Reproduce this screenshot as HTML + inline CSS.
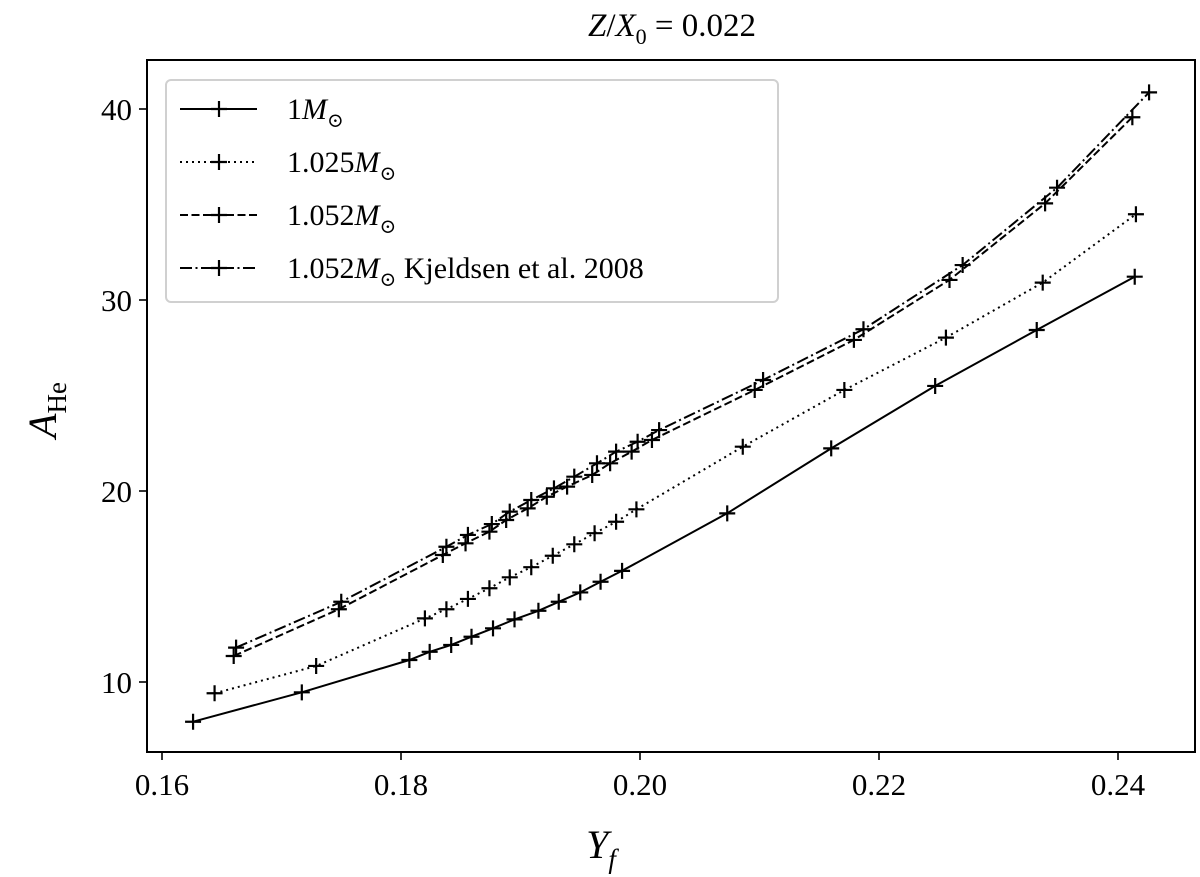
<!DOCTYPE html>
<html><head><meta charset="utf-8"><style>
html,body{margin:0;padding:0;background:#fff;}
svg{display:block;font-family:"Liberation Serif","DejaVu Serif",serif;}
</style></head><body>
<svg id="chart" width="1200" height="877" viewBox="0 0 1200 877" xmlns="http://www.w3.org/2000/svg">
<text x="672" y="36" font-size="33" text-anchor="middle"><tspan font-style="italic">Z</tspan>/<tspan font-style="italic">X</tspan><tspan font-size="22" dy="8">0</tspan><tspan dy="-8"> = 0.022</tspan></text>
<g id="plot"></g>
<rect x="147" y="60" width="1048" height="692" fill="none" stroke="#000" stroke-width="2"/>
<g id="ticks"></g>
<text x="601" y="858" font-size="40" font-style="italic" text-anchor="middle">Y<tspan font-size="27" dy="10">f</tspan></text>
<text transform="translate(56,410) rotate(-90)" font-size="40" text-anchor="middle"><tspan font-style="italic">A</tspan><tspan font-size="27" dy="10">He</tspan></text>
<g id="legend"></g>
</svg>
<script>
const xTicks=[0.16,0.18,0.20,0.22,0.24];
const xTickLabels=["0.16","0.18","0.20","0.22","0.24"];
const yTicks=[10,20,30,40];
const yTickLabels=["10","20","30","40"];
const x1=[0.1626,0.1717,0.1807,0.1824,0.1842,0.1859,0.1877,0.1895,0.1915,0.1932,0.1950,0.1967,0.1985,0.2073,0.2160,0.2247,0.2332,0.2414];
const y1=[7.92,9.46,11.15,11.58,11.94,12.37,12.81,13.28,13.73,14.20,14.69,15.25,15.82,18.83,22.23,25.50,28.43,31.22];
const x2=[0.1644,0.1729,0.1820,0.1838,0.1856,0.1874,0.1891,0.1909,0.1927,0.1945,0.1962,0.1980,0.1997,0.2086,0.2171,0.2256,0.2337,0.2415];
const y2=[9.41,10.84,13.33,13.81,14.35,14.91,15.48,16.01,16.61,17.21,17.79,18.39,19.04,22.32,25.29,28.03,30.91,34.49];
const x3=[0.1660,0.1748,0.1835,0.1854,0.1874,0.1888,0.1906,0.1922,0.1939,0.1960,0.1975,0.1993,0.2010,0.2096,0.2179,0.2259,0.2339,0.2412];
const y3=[11.36,13.81,16.65,17.26,17.87,18.48,19.09,19.70,20.23,20.84,21.45,22.06,22.67,25.29,27.91,31.05,35.06,39.57];
const x4=[0.1662,0.1750,0.1838,0.1856,0.1876,0.1891,0.1909,0.1928,0.1945,0.1964,0.1980,0.1998,0.2016,0.2103,0.2187,0.2270,0.2349,0.2426];
const y4=[11.80,14.20,17.08,17.70,18.27,18.92,19.53,20.14,20.75,21.45,22.06,22.58,23.19,25.81,28.47,31.83,35.88,40.87];
const seriesNames=["1M","1.025M","1.052M","1.052M Kjeldsen et al. 2008"];

const NS="http://www.w3.org/2000/svg";
function sx(v){return 162+(v-0.16)*11950;}
function sy(v){return 682-(v-10)*19.1;}
function mk(tag,attrs,parent){const e=document.createElementNS(NS,tag);for(const k in attrs)e.setAttribute(k,attrs[k]);parent.appendChild(e);return e;}
const dashes=["","2,4","8,3.5","12,3.5,2,3.5"];
const plot=document.getElementById('plot');
const series=[[x1,y1],[x2,y2],[x3,y3],[x4,y4]];
series.forEach((s,i)=>{
  const g=mk('g',{},plot);
  
  
  const pts=s[0].map((xv,j)=>sx(xv).toFixed(1)+','+sy(s[1][j]).toFixed(1)).join(' ');
  const pl=mk('polyline',{points:pts,fill:'none',stroke:'#000','stroke-width':2,'stroke-dasharray':dashes[i]},g);
  
  
  s[0].forEach((xv,j)=>{
    const cx=sx(xv),cy=sy(s[1][j]);
    const p=mk('path',{d:`M${cx-8},${cy}H${cx+8}M${cx},${cy-8}V${cy+8}`,stroke:'#000','stroke-width':2.2,fill:'none'},g);
    
    
  });
});
const ticks=document.getElementById('ticks');
xTicks.forEach((t,i)=>{
  const l=mk('line',{x1:sx(t),x2:sx(t),y1:752,y2:760,stroke:'#000','stroke-width':1.6},ticks);
  
  
  const tx=mk('text',{x:sx(t),y:795,'font-size':31,'text-anchor':'middle'},ticks);
  
  
  tx.textContent=xTickLabels[i];
});
yTicks.forEach((t,i)=>{
  const l=mk('line',{x1:139,x2:147,y1:sy(t),y2:sy(t),stroke:'#000','stroke-width':1.6},ticks);
  
  
  const tx=mk('text',{x:132,y:sy(t)+11,'font-size':31,'text-anchor':'end'},ticks);
  
  
  tx.textContent=yTickLabels[i];
});
const lg=document.getElementById('legend');
const box=mk('rect',{x:166,y:80,width:612,height:222,rx:5,fill:'#fff','fill-opacity':0.85,stroke:'#d0d0d0','stroke-width':2},lg);


const rowsY=[109,162,215,268];
const labelsHtml=['1<tspan font-style="italic">M</tspan><tspan font-size="20" dy="8">⊙</tspan>',
 '1.025<tspan font-style="italic">M</tspan><tspan font-size="20" dy="8">⊙</tspan>',
 '1.052<tspan font-style="italic">M</tspan><tspan font-size="20" dy="8">⊙</tspan>',
 '1.052<tspan font-style="italic">M</tspan><tspan font-size="20" dy="8">⊙</tspan><tspan dy="-8"> Kjeldsen et al. 2008</tspan>'];
rowsY.forEach((ry,i)=>{
  const g=mk('g',{},lg);
  
  
  mk('line',{x1:180,x2:257,y1:ry,y2:ry,stroke:'#000','stroke-width':2,'stroke-dasharray':dashes[i]},g);
  mk('path',{d:`M${211},${ry}H${227}M${219},${ry-8}V${ry+8}`,stroke:'#000','stroke-width':2.2},g);
  const t=mk('text',{x:287,y:ry+10,'font-size':30},g);
  t.innerHTML=labelsHtml[i];
});
</script>
</body></html>
